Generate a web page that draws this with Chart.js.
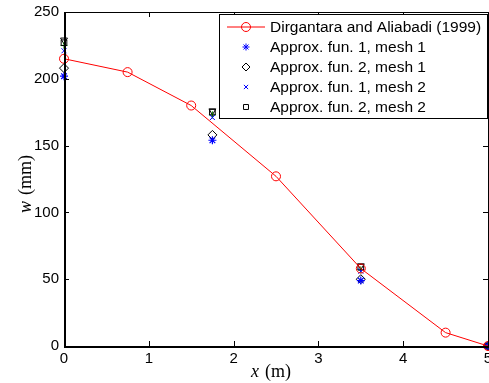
<!DOCTYPE html>
<html>
<head>
<meta charset="utf-8">
<script src="https://cdn.jsdelivr.net/npm/chart.js@4"></script>
<style>
  html, body { margin: 0; padding: 0; background: #fff; }
  #wrap { width: 489px; height: 383px; }
</style>
</head>
<body>
<div id="wrap"><canvas id="chart" width="489" height="383"></canvas></div>
<script>
// data
const refX = [0, 0.75, 1.5, 2.5, 3.5, 4.5, 5];
const refW = [215, 205, 180, 127, 58, 10, 0];

const meshX = [0, 1.75, 3.5, 5];
const fun1mesh1 = [202, 154, 49, 0];
const fun2mesh1 = [208, 158, 50, 0];
const fun1mesh2 = [221, 171, 56, 0];
const fun2mesh2 = [227, 175, 59, 0];
const extraGreen = [225, 173, 57, 0];
const extraTri = [229, 176, 60, 0];

const xTicks = [0, 1, 2, 3, 4, 5];
const yTicks = [0, 50, 100, 150, 200, 250];

const legendLabels = [
  'Dirgantara and Aliabadi (1999)',
  'Approx. fun. 1, mesh 1',
  'Approx. fun. 2, mesh 1',
  'Approx. fun. 1, mesh 2',
  'Approx. fun. 2, mesh 2'
];
// marker size in the legend (smaller than on the plot)
const legendRadius = [4.5, 3.5, 4, 3, 3.5];

function pts(xs, ys) {
  return xs.map((x, i) => ({ x: x, y: ys[i] }));
}

const tickFont = '15px "Liberation Sans", Arial, sans-serif';
const legendFont = '15.5px "Liberation Sans", Arial, sans-serif';

const frame = {
  id: 'frame',
  afterDraw(chart) {
    const ctx = chart.ctx;
    const a = chart.chartArea;
    const xs = chart.scales.x, ys = chart.scales.y;
    ctx.save();
    ctx.strokeStyle = '#000';
    ctx.lineWidth = 1;
    ctx.strokeRect(a.left + 0.5, a.top + 0.5, a.right - a.left, a.bottom - a.top);
    // inward ticks
    ctx.beginPath();
    xTicks.forEach(v => {
      const px = Math.round(xs.getPixelForValue(v)) + 0.5;
      ctx.moveTo(px, a.bottom); ctx.lineTo(px, a.bottom - 5);
      ctx.moveTo(px, a.top); ctx.lineTo(px, a.top + 5);
    });
    yTicks.forEach(v => {
      const py = Math.round(ys.getPixelForValue(v)) + 0.5;
      ctx.moveTo(a.left, py); ctx.lineTo(a.left + 5, py);
      ctx.moveTo(a.right, py); ctx.lineTo(a.right - 5, py);
    });
    ctx.stroke();
    // thicker left & bottom axis as in the picture
    ctx.lineWidth = 2;
    ctx.beginPath();
    ctx.moveTo(a.left + 1, a.top); ctx.lineTo(a.left + 1, a.bottom + 1);
    ctx.lineTo(a.right + 2, a.bottom + 1);
    ctx.stroke();

    // tick labels
    ctx.fillStyle = '#000';
    ctx.font = tickFont;
    ctx.textAlign = 'right';
    ctx.textBaseline = 'middle';
    yTicks.forEach(v => ctx.fillText(String(v), a.left - 5, ys.getPixelForValue(v)));
    ctx.textAlign = 'center';
    ctx.textBaseline = 'top';
    xTicks.forEach(v => ctx.fillText(String(v), xs.getPixelForValue(v), a.bottom + 5));

    // axis titles
    const serif = '"Liberation Serif", "DejaVu Serif", serif';
    ctx.textBaseline = 'alphabetic';
    ctx.textAlign = 'left';
    let x0 = 251, y0 = 377;
    ctx.font = 'italic 18px ' + serif;
    ctx.fillText('x', x0, y0);
    ctx.font = '18px ' + serif;
    ctx.fillText('(m)', x0 + 14, y0);

    ctx.translate(31, 213);
    ctx.rotate(-Math.PI / 2);
    ctx.font = 'italic 18px ' + serif;
    ctx.fillText('w', 0, 0);
    ctx.font = '18px ' + serif;
    ctx.fillText('(mm)', 18, 0);
    ctx.restore();

    // legend box
    const lx = 219, ly = 14, lw = 268, lh = 104;
    ctx.save();
    ctx.fillStyle = '#fff';
    ctx.fillRect(lx, ly, lw, lh);
    ctx.strokeStyle = '#000';
    ctx.lineWidth = 1;
    ctx.strokeRect(lx + 0.5, ly + 0.5, lw, lh);
    ctx.font = legendFont;
    ctx.textBaseline = 'middle';
    ctx.textAlign = 'left';
    legendLabels.forEach((label, i) => {
      const ds = chart.data.datasets[i];
      const cy = ly + 13 + i * 20;
      const cx = lx + 27;
      if (ds.showLine) {
        ctx.strokeStyle = ds.borderColor;
        ctx.lineWidth = 1;
        ctx.beginPath();
        ctx.moveTo(lx + 8, cy); ctx.lineTo(lx + 46, cy);
        ctx.stroke();
      }
      ctx.save();
      ctx.strokeStyle = ds.pointBorderColor;
      ctx.fillStyle = ds.pointStyle === 'star' ? ds.pointBorderColor : 'rgba(0,0,0,0)';
      ctx.lineWidth = 1;
      Chart.helpers.drawPoint(ctx, {
        pointStyle: ds.pointStyle,
        radius: legendRadius[i],
        rotation: 0,
        borderWidth: 1
      }, cx, cy);
      ctx.restore();
      ctx.fillStyle = '#000';
      ctx.fillText(label, lx + 51, cy + 1);
    });
    ctx.restore();
  }
};

const none = 'rgba(0,0,0,0)';
const datasets = [
  { data: pts(refX, refW), showLine: true, borderColor: '#ff0000', backgroundColor: none,
    pointStyle: 'circle', pointRadius: 4.5, borderWidth: 1, pointBorderColor: '#ff0000' },
  { data: pts(meshX, fun1mesh1), showLine: false, borderColor: '#0000ff', backgroundColor: none,
    pointStyle: 'star', pointRadius: 4, borderWidth: 1.2, pointBorderColor: '#0000ff' },
  { data: pts(meshX, fun2mesh1), showLine: false, borderColor: '#000000', backgroundColor: none,
    pointStyle: 'rectRot', pointRadius: 4.5, borderWidth: 1, pointBorderColor: '#000000' },
  { data: pts(meshX, fun1mesh2), showLine: false, borderColor: '#0000ff', backgroundColor: none,
    pointStyle: 'crossRot', pointRadius: 3.5, borderWidth: 1, pointBorderColor: '#0000ff' },
  { data: pts(meshX, fun2mesh2), showLine: false, borderColor: '#000000', backgroundColor: none,
    pointStyle: 'rect', pointRadius: 4, borderWidth: 1, pointBorderColor: '#000000' },
  { data: pts(meshX, extraGreen), showLine: false, borderColor: '#008000', backgroundColor: none,
    pointStyle: 'cross', pointRadius: 3.5, borderWidth: 1, pointBorderColor: '#008000' },
  { data: pts(meshX, extraTri), showLine: false, borderColor: '#000000', backgroundColor: none,
    pointStyle: 'triangle', pointRotation: 180, pointRadius: 4, borderWidth: 1, pointBorderColor: '#000000' }
];

new Chart(document.getElementById('chart'), {
  type: 'scatter',
  data: { datasets: datasets },
  options: {
    responsive: false,
    animation: false,
    clip: false,
    layout: { autoPadding: false, padding: { top: 12, right: 1, left: 0, bottom: 0 } },
    plugins: { legend: { display: false }, tooltip: { enabled: false } },
    scales: {
      x: {
        type: 'linear', min: 0, max: 5,
        ticks: { display: false },
        grid: { display: false },
        border: { display: false },
        afterFit: s => { s.height = 37; s.paddingRight = 0; s.paddingLeft = 0; }
      },
      y: {
        type: 'linear', min: 0, max: 250,
        ticks: { display: false },
        grid: { display: false },
        border: { display: false },
        afterFit: s => { s.width = 64; s.paddingTop = 0; s.paddingBottom = 0; }
      }
    }
  },
  plugins: [frame]
});
</script>
</body>
</html>
